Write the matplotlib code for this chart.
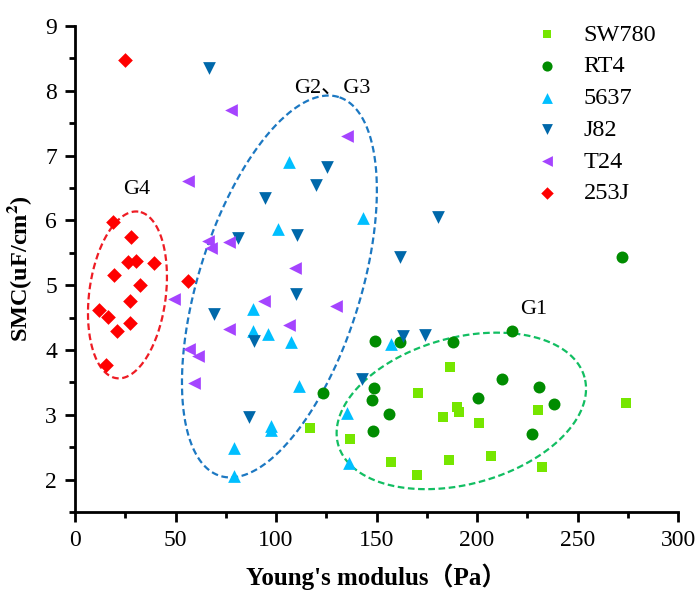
import numpy as np
import matplotlib
matplotlib.use("Agg")
import matplotlib.pyplot as plt

plt.rcParams["font.family"] = ["Liberation Serif", "Noto Sans CJK SC"]
plt.rcParams["mathtext.fontset"] = "stix"

# Data
sw780_x = [116.9, 136.8, 157.2, 170.1, 170.5, 186.7, 182.9, 189.9, 191.2, 200.8, 186.2, 206.8, 230.5, 232.2, 274.0]
sw780_y = [2.80, 2.63, 2.27, 2.07, 3.34, 3.73, 2.97, 3.12, 3.04, 2.88, 2.30, 2.36, 3.07, 2.19, 3.18]

rt4_x = [123.5, 149.3, 161.7, 187.9, 217.6, 148.9, 147.6, 156.4, 148.1, 212.4, 200.7, 231.0, 238.3, 227.2, 272.3]
rt4_y = [3.33, 4.14, 4.13, 4.13, 4.30, 3.41, 3.23, 3.01, 2.75, 3.55, 3.26, 3.43, 3.17, 2.70, 5.43]

c5637_x = [106.6, 101.1, 143.4, 88.7, 88.4, 95.9, 107.5, 111.4, 97.4, 97.4, 79.3, 79.3, 157.2, 135.2, 136.5]
c5637_y = [6.90, 5.87, 6.04, 4.63, 4.29, 4.24, 4.13, 3.44, 2.83, 2.77, 2.49, 2.05, 4.10, 3.03, 2.26]

j82_x = [66.7, 125.5, 119.7, 94.5, 81.2, 110.3, 180.8, 161.7, 110.0, 69.3, 89.2, 86.7, 163.3, 174.1, 142.6]
j82_y = [8.35, 6.82, 6.55, 6.35, 5.73, 5.78, 6.06, 5.44, 4.86, 4.56, 4.14, 2.96, 4.21, 4.23, 3.56]

t24_x = [77.6, 56.4, 135.2, 66.3, 67.7, 76.6, 109.5, 49.1, 94.0, 129.9, 76.6, 106.5, 56.9, 61.0, 59.4]
t24_y = [7.71, 6.61, 7.31, 5.68, 5.57, 5.67, 5.27, 4.78, 4.76, 4.68, 4.33, 4.38, 4.02, 3.90, 3.49]

j253_x = [24.9, 18.7, 27.9, 26.5, 30.2, 39.5, 19.2, 32.2, 56.4, 27.5, 11.9, 16.6, 27.5, 21.1, 15.4]
j253_y = [8.48, 5.97, 5.75, 5.36, 5.38, 5.34, 5.15, 5.01, 5.07, 4.76, 4.62, 4.51, 4.41, 4.29, 3.77]

# Group ellipses: centre (data), semi-axes (px), angle (deg)
groups = ["G1", "G2、G3", "G4"]
group_centers = [(192.2, 3.06), (101.7, 4.98), (26.1, 4.85)]
group_axes = [(127.7, 73.3), (198.5, 81.0), (84.0, 38.3)]
group_angles = [15.2, 72.6, 82.6]
group_colors = ["#12BE62", "#1C78C2", "#EE1C24"]
label_pos = [(228, 4.62), (128, 8.04), (30.7, 6.47)]

fig = plt.figure(figsize=(6.97, 5.92), dpi=100)
ax = fig.add_axes([75 / 697, 1 - 512 / 592, 603 / 697, 486 / 592])
ax.set_xlim(0, 300)
ax.set_ylim(1.5, 9)

# Dashed group outlines, built in screen space so the tilt looks right
t = np.linspace(0, 2 * np.pi, 400)
px = fig.dpi / 100.0
for (cx, cy), (a, b), ang, col in zip(group_centers, group_axes, group_angles, group_colors):
    th = np.deg2rad(ang)
    dx = a * px * np.cos(t) * np.cos(th) - b * px * np.sin(t) * np.sin(th)
    dy = a * px * np.cos(t) * np.sin(th) + b * px * np.sin(t) * np.cos(th)
    c = ax.transData.transform((cx, cy))
    pts = ax.transData.inverted().transform(np.column_stack([c[0] + dx, c[1] + dy]))
    ax.plot(pts[:, 0], pts[:, 1], color=col, lw=1.6, dashes=(3, 1.6), zorder=1)

ax.scatter(sw780_x, sw780_y, marker="s", s=52, color="#76E600", linewidths=0, label="SW780", zorder=3)
ax.scatter(rt4_x, rt4_y, marker="o", s=74, color="#008C00", linewidths=0, label="RT4", zorder=3)
ax.scatter(c5637_x, c5637_y, marker="^", s=84, color="#00BFFF", linewidths=0, label="5637", zorder=3)
ax.scatter(j82_x, j82_y, marker="v", s=84, color="#0068AA", linewidths=0, label="J82", zorder=3)
ax.scatter(t24_x, t24_y, marker="<", s=84, color="#A544FF", linewidths=0, label="T24", zorder=3)
ax.scatter(j253_x, j253_y, marker="D", s=56, color="#FF0000", linewidths=0, label="253J", zorder=3)

for name, (lx, ly) in zip(groups, label_pos):
    ax.text(lx, ly, name, fontsize=16, ha="center", va="center",
            family=["Liberation Serif", "Noto Sans CJK SC"])

# Axes styling
for side in ["top", "right"]:
    ax.spines[side].set_visible(False)
for side in ["left", "bottom"]:
    ax.spines[side].set_linewidth(2)
ax.set_xticks(np.arange(0, 301, 50))
ax.set_xticks(np.arange(25, 300, 50), minor=True)
ax.set_yticks(np.arange(2, 10, 1))
ax.set_yticks(np.arange(1.5, 9, 1), minor=True)
ax.tick_params(which="major", direction="out", length=7, width=2, labelsize=17, pad=6)
ax.tick_params(which="minor", direction="out", length=4, width=2)

ax.set_xlabel("Young's modulus（Pa）", fontsize=18, fontweight="bold", labelpad=9,
              family=["Liberation Serif", "Noto Sans CJK SC"])
ax.set_ylabel("SMC(uF/cm$^\\mathbf{2}$)", fontsize=17.5, fontweight="bold", labelpad=8)

leg = ax.legend(loc="upper right", bbox_to_anchor=(1.0, 1.05), frameon=False, fontsize=17.5,
                handletextpad=0.5, labelspacing=0.4, markerscale=0.85)

fig.savefig("out.png", dpi=100)
